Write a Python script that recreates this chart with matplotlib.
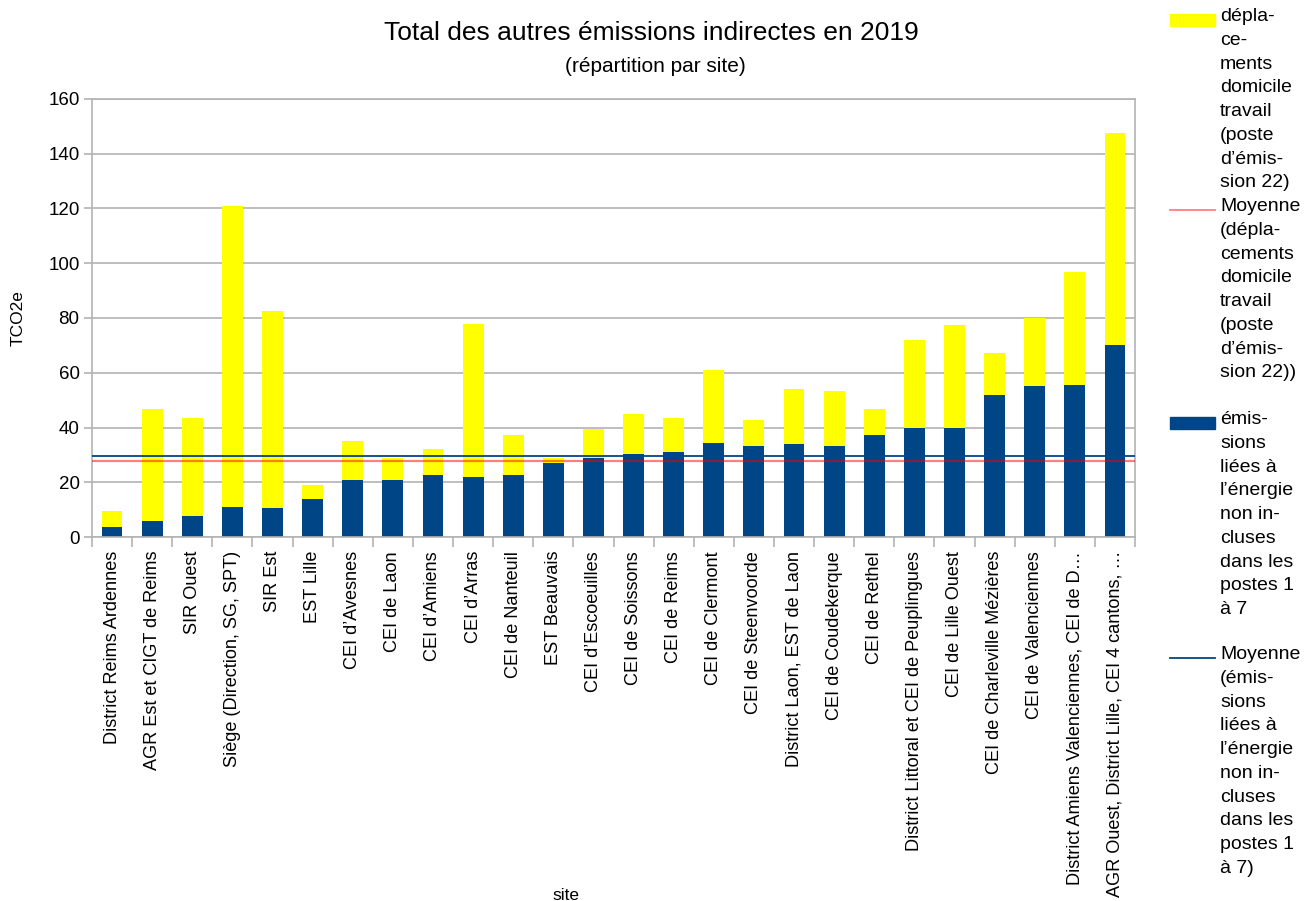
""" Total des autres émissions indirectes en 2019, stacked bars per site. """

import numpy as np
import matplotlib.pyplot as plt
from matplotlib.patches import Rectangle
from matplotlib.lines import Line2D

""" DATA """
sites = [
    "District Reims Ardennes",
    "AGR Est et CIGT de Reims",
    "SIR Ouest",
    "Siège (Direction, SG, SPT)",
    "SIR Est",
    "EST Lille",
    "CEI d’Avesnes",
    "CEI de Laon",
    "CEI d’Amiens",
    "CEI d’Arras",
    "CEI de Nanteuil",
    "EST Beauvais",
    "CEI d’Escoeuilles",
    "CEI de Soissons",
    "CEI de Reims",
    "CEI de Clermont",
    "CEI de Steenvoorde",
    "District Laon, EST de Laon",
    "CEI de Coudekerque",
    "CEI de Rethel",
    "District Littoral et CEI de Peuplingues",
    "CEI de Lille Ouest",
    "CEI de Charleville Mézières",
    "CEI de Valenciennes",
    "District Amiens Valenciennes, CEI de D…",
    "AGR Ouest, District Lille, CEI 4 cantons, …",
]

# émissions liées à l'énergie non incluses dans les postes 1 à 7 (bottom)
energie = [3.8, 6.0, 7.8, 11.1, 10.7, 13.7, 21.0, 21.0, 22.8, 22.1, 22.8, 27.2, 29.0,
           30.5, 30.9, 34.5, 33.4, 33.8, 33.4, 37.1, 40.0, 40.0, 51.7, 55.0, 55.7, 70.0]

# totals (top of the yellow part)
totals = [9.6, 46.6, 43.3, 120.9, 82.4, 19.1, 35.2, 28.9, 32.0, 77.7, 37.4, 29.0, 39.6,
          45.1, 43.3, 60.9, 42.6, 53.9, 53.2, 46.6, 71.8, 77.3, 67.1, 79.9, 96.7, 147.6]

deplacements = [t - e for t, e in zip(totals, energie)]

labels = [
    "dépla-\nce-\nments\ndomicile\ntravail\n(poste\nd’émis-\nsion 22)",
    "Moyenne\n(dépla-\ncements\ndomicile\ntravail\n(poste\nd’émis-\nsion 22))",
    "émis-\nsions\nliées à\nl’énergie\nnon in-\ncluses\ndans les\npostes 1\nà 7",
    "Moyenne\n(émis-\nsions\nliées à\nl’énergie\nnon in-\ncluses\ndans les\npostes 1\nà 7)",
]

""" STYLE """
YELLOW = "#ffff00"
BLUE = "#004586"
RED = "#ff0000"
GRID = "#b3b3b3"

plt.rcParams["font.family"] = ["Liberation Sans", "DejaVu Sans"]

W, H = 1307, 901
fig = plt.figure(figsize=(W / 100, H / 100), dpi=100)
ax = fig.add_axes([92 / W, 1 - 537 / H, (1135 - 92) / W, (537 - 99) / H])

x = np.arange(len(sites))
ax.bar(x, energie, width=0.52, color=BLUE, zorder=2)
ax.bar(x, deplacements, width=0.52, bottom=energie, color=YELLOW, zorder=2)

mean_dep = np.mean(deplacements)
mean_ene = np.mean(energie)
ax.axhline(mean_dep, color=RED, alpha=0.5, lw=1.6, zorder=3)
ax.axhline(mean_ene, color=BLUE, lw=1.3, zorder=3)

ax.set_xlim(-0.5, len(sites) - 0.5)
ax.set_ylim(0, 160)
ax.set_yticks(range(0, 161, 20))
ax.yaxis.grid(True, color=GRID, lw=1.2, zorder=0)
ax.set_axisbelow(True)

ax.set_xticks(x)
ax.set_xticklabels(sites, rotation=90, va="top", ha="center", fontsize=13.1)
ax.set_xticks(np.arange(-0.5, len(sites), 1.0), minor=True)
ax.tick_params(axis="x", which="major", length=0, pad=10)
ax.tick_params(axis="x", which="minor", length=7, color=GRID, width=1.2)
ax.tick_params(axis="y", length=6, color=GRID, width=1.2, labelsize=13.5, pad=3)

for s in ax.spines.values():
    s.set_color(GRID)
    s.set_linewidth(1.2)

ax.set_ylabel("TCO2e", fontsize=12.5)
ax.yaxis.set_label_coords(-66 / (1135 - 92), 0.5)
ax.set_xlabel("site", fontsize=12.5)
ax.xaxis.set_label_coords(0.454, -(888 - 537) / (537 - 99))

fig.text(651 / W, 1 - 33 / H, "Total des autres émissions indirectes en 2019",
         ha="center", va="center", fontsize=19)
fig.text(655 / W, 1 - 67 / H, "(répartition par site)",
         ha="center", va="center", fontsize=15)

# legend, drawn by hand so the symbol sits on the first text line
tops = [20, 210, 423, 658]
kinds = [("patch", YELLOW), ("line", RED), ("patch", BLUE), ("line", BLUE)]
for (kind, col), lab, yc in zip(kinds, labels, tops):
    if kind == "patch":
        fig.add_artist(Rectangle((1170 / W, 1 - (yc + 6) / H), 45 / W, 12 / H,
                                 transform=fig.transFigure, color=col))
    else:
        a = 0.5 if col == RED else 1.0
        fig.add_artist(Line2D([1170 / W, 1215 / W], [1 - yc / H] * 2,
                              transform=fig.transFigure, color=col, lw=1.3, alpha=a))
    fig.text(1220 / W, 1 - (yc - 12) / H, lab, ha="left", va="top",
             fontsize=14, linespacing=1.52)

fig.savefig("out.png", dpi=100)
